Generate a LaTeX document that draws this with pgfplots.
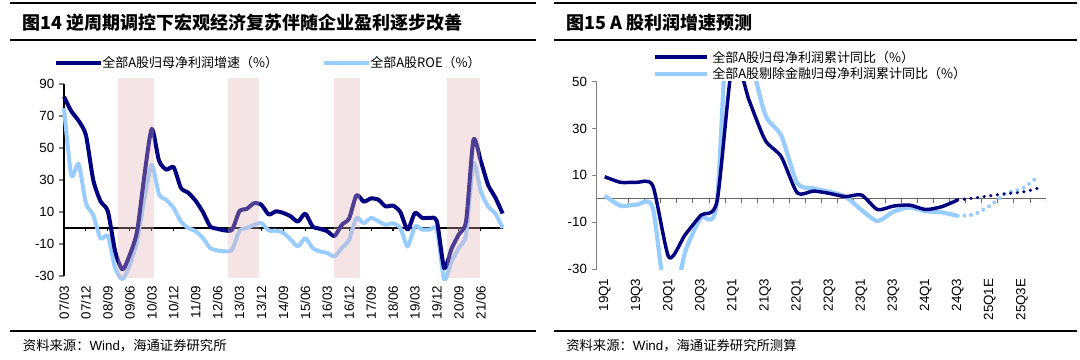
\documentclass[border=0pt]{standalone}
\usepackage{pgfplots}
\pgfplotsset{compat=1.18}
\usepackage{fontspec}
\setmainfont{Liberation Sans}
\newfontfamily\cjk{Noto Sans CJK SC}
\definecolor{navy}{RGB}{0,0,128}
\definecolor{lblue}{RGB}{153,204,255}
\definecolor{pinkshade}{RGB}{225,180,185}

\pgfplotstableread{
i v
0 82
1 73
2 67
3 58
4 30
5 16.7
6 10.4
7 -14.6
8 -26
9 -16.7
10 -2
11 33
12 62
13 42
14 36.5
15 38
16 25
17 22
18 17
19 10
20 1
21 -0.5
22 -1.5
23 -1
24 10.5
25 12
26 15.5
27 14.5
28 8.5
29 10.4
30 9.4
31 7.3
32 4
33 9
34 1
35 -0.5
36 -2
37 -5
38 2
39 6
40 20.5
41 16.5
42 18.5
43 17.7
44 13.5
45 14
46 10
47 -1
48 9.4
49 6.3
50 6.3
51 4.2
52 -25
53 -13
54 -4
55 4.5
56 55
57 42
58 27
59 19
60 9
}\leftdark

\pgfplotstableread{
i v
0 75
1 33
2 40
3 15.5
4 8
5 -6.5
6 -5
7 -25
8 -32
9 -23
10 -8
11 18.5
12 39.5
13 21
14 17.5
15 12.5
16 4
17 0
18 -2
19 -6.3
20 -12.5
21 -14
22 -14.6
23 -13.5
24 -1.7
25 0
26 2
27 3
28 -1.5
29 -1.7
30 -3
31 -7.3
32 -11.5
33 -6.3
34 -12.5
35 -14.6
36 -15.6
37 -17.7
38 -12.5
39 -7.3
40 6.3
41 3
42 6.3
43 4.2
44 2
45 3
46 0
47 -11.5
48 1
49 -1
50 -1
51 -1
52 -32
53 -21
54 -12.5
55 -4
56 40.5
57 23
58 13.5
59 9
60 0
}\leftlight

\pgfplotstableread{
i v
0 9.4
1 7
2 7
3 5.5
4 -25
5 -15.5
6 -7
7 -1
8 60
9 42
10 25
11 18
12 2.5
13 3.3
14 2.3
15 0.9
16 1.6
17 -4.6
18 -3.1
19 -2.7
20 -4.6
21 -3.4
22 -0.5
}\rightdark

\pgfplotstableread{
i v
22 -0.5
23 0.3
24 1.3
25 2.2
26 2.8
27 4.5
}\rightdarkE

\pgfplotstableread{
i v
0 1.3
1 -3
2 -2.5
3 -4
4 -52
5 -23
6 -8
7 -1
8 120
9 65
10 36
11 27
12 6.6
13 4.4
14 3
15 0.9
16 -4.8
17 -9.5
18 -5.5
19 -3.7
20 -5.3
21 -5.8
22 -7.3
}\rightlight

\pgfplotstableread{
i v
22 -7.3
23 -6.7
24 -3
25 2.3
26 4.3
27 9.4
}\rightlightE

\pgfplotsset{
  myax/.style={
    scale only axis,
    axis y line*=left,
    axis x line*=bottom,
    x axis line style={draw=none},
    y axis line style={-},
    xtick style={draw=none},
    tick align=outside,
    ytick pos=left,
    major tick length=3.75pt,
    tick label style={font=\fontsize{10}{12}\selectfont},
    xticklabel style={rotate=90, anchor=east},
    /pgf/number format/assume math mode=true,
  }
}

\begin{document}
\begin{tikzpicture}
\useasboundingbox[fill=white] (0,0) rectangle (810pt,-270pt);
% rules
\draw[line width=1.5pt] (7.5pt,-2.6pt) -- (402pt,-2.6pt);
\draw[line width=0.9pt] (7.5pt,-30pt) -- (402pt,-30pt);
\draw[line width=1.2pt] (7.5pt,-248.25pt) -- (402pt,-248.25pt);
\draw[line width=1.5pt] (415.5pt,-2.6pt) -- (807.75pt,-2.6pt);
\draw[line width=0.9pt] (415.5pt,-30pt) -- (807.75pt,-30pt);
\draw[line width=1.2pt] (415.5pt,-248.25pt) -- (807.75pt,-248.25pt);
% titles
\node[anchor=west, inner sep=0pt] at (17pt,-17pt) {\fontsize{13.5}{16}\selectfont\cjk\bfseries 图14 逆周期调控下宏观经济复苏伴随企业盈利逐步改善};
\node[anchor=west, inner sep=0pt] at (424.5pt,-17pt) {\fontsize{13.5}{16}\selectfont\cjk\bfseries 图15 A 股利润增速预测};
% sources
\node[anchor=west, inner sep=0pt] at (17pt,-259.5pt) {\fontsize{10}{12}\selectfont{\cjk 资料来源：}Wind{\cjk ，海通证券研究所}};
\node[anchor=west, inner sep=0pt] at (424.5pt,-259.5pt) {\fontsize{10}{12}\selectfont{\cjk 资料来源：}Wind{\cjk ，海通证券研究所测算}};
% left legend
\draw[navy, line width=3pt] (42pt,-47.25pt) -- (75.75pt,-47.25pt);
\node[anchor=west, inner sep=0pt] at (76.5pt,-47.25pt) {\fontsize{9.75}{12}\selectfont\cjk 全部A股归母净利润增速（\%）};
\draw[lblue, line width=3pt] (243pt,-47.25pt) -- (276.75pt,-47.25pt);
\node[anchor=west, inner sep=0pt] at (277.5pt,-47.25pt) {\fontsize{9.75}{12}\selectfont\cjk 全部A股ROE（\%）};
% right legend
\draw[navy, line width=3pt] (491.25pt,-43.1pt) -- (530.25pt,-43.1pt);
\node[anchor=west, inner sep=0pt] at (534pt,-43.1pt) {\fontsize{9.75}{12}\selectfont\cjk 全部A股归母净利润累计同比（\%）};
\draw[lblue, line width=3pt] (491.25pt,-55.5pt) -- (530.25pt,-55.5pt);
\node[anchor=west, inner sep=0pt] at (534pt,-55.5pt) {\fontsize{9.75}{12}\selectfont\cjk 全部A股剔除金融归母净利润累计同比（\%）};

% LEFT AXIS
\begin{axis}[myax,
  at={(48pt,-207pt)}, anchor=south west,
  width=329pt, height=144pt,
  xmin=0, xmax=60, ymin=-30, ymax=90,
  ytick={-30,-10,10,30,50,70,90},
  xtick={0,3,...,57},
  xticklabels={07/03,07/12,08/09,09/06,10/03,10/12,11/09,12/06,13/03,13/12,14/09,15/06,16/03,16/12,17/09,18/06,19/03,19/12,20/09,21/06},
  y axis line style={line width=1pt},
  ytick style={line width=0.8pt},
  clip=false,
]
\draw[line width=1pt] (axis cs:0,0) -- (axis cs:60,0);
\pgfplotsinvokeforeach{3,6,9,12,15,18,21,24,27,30,33,36,39,42,45,48,51,54,57}{
  \draw[line width=0.8pt] (axis cs:#1,0) -- (axis cs:#1,-2);
}
\addplot[lblue, line width=3pt, smooth, tension=0.4, line join=round] table[x=i,y=v] {\leftlight};
\addplot[navy, line width=3pt, smooth, tension=0.4, line join=round] table[x=i,y=v] {\leftdark};
\fill[pinkshade, fill opacity=0.35] (axis cs:7.42,-31.3) rectangle (axis cs:12.3,93.7);
\fill[pinkshade, fill opacity=0.35] (axis cs:22.46,-31.3) rectangle (axis cs:26.65,93.7);
\fill[pinkshade, fill opacity=0.35] (axis cs:36.95,-31.3) rectangle (axis cs:40.46,93.7);
\fill[pinkshade, fill opacity=0.35] (axis cs:52.4,-31.3) rectangle (axis cs:56.86,93.7);
\end{axis}

% RIGHT AXIS
\begin{axis}[myax,
  at={(447.5pt,-201.75pt)}, anchor=south west,
  width=337pt, height=140.5pt,
  xmin=-0.5, xmax=27.5, ymin=-30, ymax=50,
  ytick={-30,-10,10,30,50},
  xtick={0,2,...,26},
  xticklabels={19Q1,19Q3,20Q1,20Q3,21Q1,21Q3,22Q1,22Q3,23Q1,23Q3,24Q1,24Q3,25Q1E,25Q3E},
  y axis line style={line width=0.7pt, draw=gray},
  ytick style={line width=0.7pt, draw=gray},
]
\draw[line width=0.8pt, gray!80!black] (axis cs:-0.5,0) -- (axis cs:27.5,0);
\pgfplotsinvokeforeach{0.5,1.5,2.5,3.5,4.5,5.5,6.5,7.5,8.5,9.5,10.5,11.5,12.5,13.5,14.5,15.5,16.5,17.5,18.5,19.5,20.5,21.5,22.5,23.5,24.5,25.5,26.5,27.5}{
  \draw[line width=0.7pt, gray!80!black] (axis cs:#1,0) -- (axis cs:#1,-1.6);
}
\addplot[lblue, line width=3.2pt, smooth, tension=0.4, line join=round] table[x=i,y=v] {\rightlight};
\addplot[navy, line width=2.6pt, smooth, tension=0.4, line join=round] table[x=i,y=v] {\rightdark};
\addplot[lblue, line width=3pt, line cap=round, dash pattern=on 0pt off 5pt, dash phase=-5pt, smooth, tension=0.4] table[x=i,y=v] {\rightlightE};
\addplot[navy, line width=2.6pt, line cap=round, dash pattern=on 0pt off 5pt, dash phase=-5pt, smooth, tension=0.4] table[x=i,y=v] {\rightdarkE};
\end{axis}
\end{tikzpicture}
\end{document}
